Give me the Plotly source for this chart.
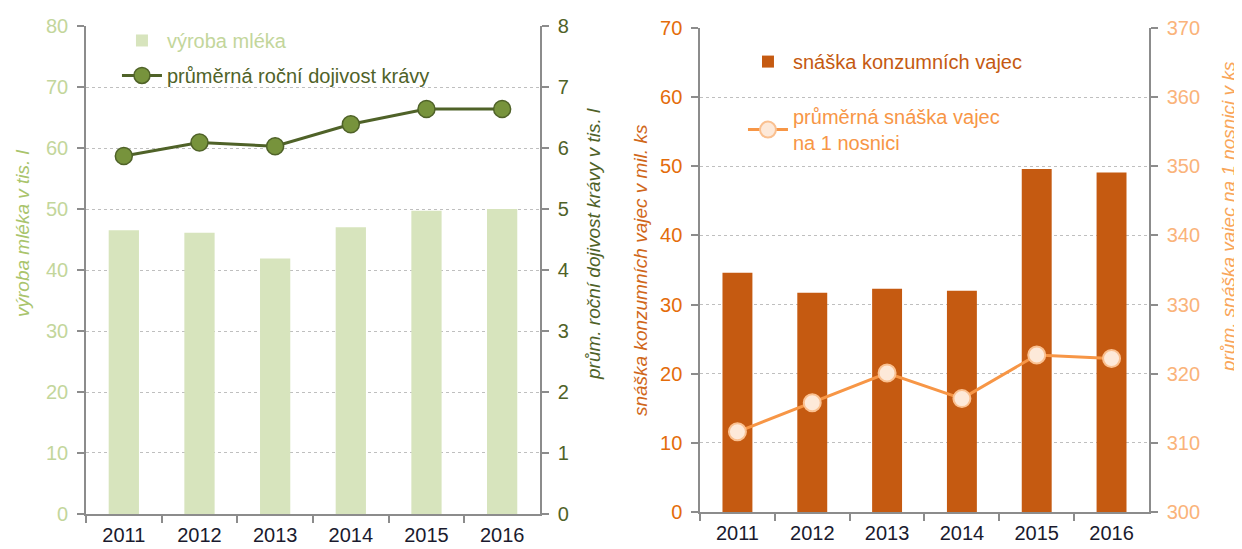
import plotly.graph_objects as go

years = ["2011", "2012", "2013", "2014", "2015", "2016"]

# Left panel: milk
milk_production = [46.5, 46.1, 41.9, 47.0, 49.7, 50.0]          # tis. l (left axis)
milk_yield = [5.87, 6.09, 6.03, 6.39, 6.64, 6.64]               # tis. l per cow (right axis)

# Right panel: eggs
egg_production = [34.6, 31.7, 32.3, 32.0, 49.6, 49.1]          # mil. ks (left axis)
egg_per_hen = [311.6, 315.8, 320.1, 316.4, 322.7, 322.2]        # ks per hen (right axis)

FONT = "Liberation Sans, Arial, sans-serif"
AXIS_GREY = "#8c8c8c"
GRID = "#bfbfbf"
TICK_DARK = "#1a1a2e"

fig = go.Figure()

fig.add_trace(go.Bar(
    x=years, y=milk_production, xaxis="x", yaxis="y",
    marker=dict(color="#d7e4bd", line=dict(width=0)),
    name='<span style="color:#c3d69b">výroba mléka</span>',
    legend="legend", legendgroup="a",
))
fig.add_trace(go.Scatter(
    x=years, y=milk_yield, xaxis="x", yaxis="y2", mode="lines+markers",
    line=dict(color="#4f6228", width=3),
    marker=dict(size=17, color="#77933c", line=dict(color="#4f6228", width=1.5)),
    name='<span style="color:#4f6228">průměrná roční dojivost krávy</span>',
    legend="legend", legendgroup="b",
))
fig.add_trace(go.Bar(
    x=years, y=egg_production, xaxis="x2", yaxis="y3",
    marker=dict(color="#c55a11", line=dict(width=0)),
    name='<span style="color:#c55a11">snáška konzumních vajec</span>',
    legend="legend2", legendgroup="c",
))
fig.add_trace(go.Scatter(
    x=years, y=egg_per_hen, xaxis="x2", yaxis="y4", mode="lines+markers",
    line=dict(color="#f79646", width=3),
    marker=dict(size=17, color="#fde9d9", line=dict(color="#fac090", width=2)),
    name='<span style="color:#f79646">průměrná snáška vajec<br>na 1 nosnici</span>',
    legend="legend2", legendgroup="d",
))

x_common = dict(
    type="category", tickson="boundaries", ticks="outside", ticklen=7,
    tickcolor=AXIS_GREY, tickwidth=1.5, showline=True, linecolor=AXIS_GREY,
    linewidth=1.5, showgrid=False, zeroline=False, automargin=False,
    ticklabelstandoff=2,
    tickfont=dict(size=20, color=TICK_DARK, family=FONT),
)
y_common = dict(
    ticks="outside", ticklen=7, tickcolor=AXIS_GREY, tickwidth=1.5,
    showline=True, linecolor=AXIS_GREY, linewidth=1.5, zeroline=False,
    automargin=False, ticklabelstandoff=5,
)

fig.update_layout(
    width=1234, height=541,
    margin=dict(l=0, r=0, t=0, b=0, autoexpand=False),
    paper_bgcolor="white", plot_bgcolor="white",
    font=dict(family=FONT),
    bargap=0.6,
    showlegend=True,
    xaxis=dict(domain=[0.0632, 0.4311], anchor="y", **x_common),
    yaxis=dict(domain=[0.0647, 0.9667], anchor="x", range=[0, 80], dtick=10,
               showgrid=True, gridcolor=GRID, griddash="dot", gridwidth=1,
               tickfont=dict(size=20, color="#c3d69b", family=FONT), **y_common),
    yaxis2=dict(overlaying="y", side="right", anchor="x", range=[0, 8], dtick=1,
                showgrid=False,
                tickfont=dict(size=20, color="#4f6228", family=FONT), **y_common),
    xaxis2=dict(domain=[0.5608, 0.9246], anchor="y3", **x_common),
    yaxis3=dict(domain=[0.0684, 0.9630], anchor="x2", range=[0, 70], dtick=10,
                showgrid=True, gridcolor=GRID, griddash="dot", gridwidth=1,
                tickfont=dict(size=20, color="#e46c0a", family=FONT), **y_common),
    yaxis4=dict(overlaying="y3", side="right", anchor="x2", range=[300, 370], dtick=10,
                showgrid=False,
                tickfont=dict(size=20, color="#fab37a", family=FONT), **y_common),
    legend=dict(x=0.0883, y=0.976, xanchor="left", yanchor="top",
                bgcolor="rgba(255,255,255,0)", font=dict(size=20, family=FONT),
                tracegroupgap=6, itemwidth=40),
    legend2=dict(x=0.5956, y=0.937, xanchor="left", yanchor="top",
                 bgcolor="rgba(255,255,255,0)", font=dict(size=20, family=FONT),
                 tracegroupgap=26, itemwidth=40),
)

titles = [
    (0.01135, 0.5841, "výroba mléka v tis. l", "#a9c46c"),
    (0.4749, 0.5638, "prům. roční dojivost krávy v tis. l", "#4f6228"),
    (0.5122, 0.5157, "snáška konzumních vajec v mil. ks", "#d0671a"),
    (0.9895, 0.6137, "prům. snáška vajec na 1 nosnici v ks", "#f9a65a"),
]
for tx, ty, txt, col in titles:
    fig.add_annotation(x=tx, y=ty, xref="paper", yref="paper", text="<i>" + txt + "</i>",
                       textangle=-90, showarrow=False, xanchor="center", yanchor="middle",
                       font=dict(size=19, color=col, family=FONT))

fig.write_html("out.html")
